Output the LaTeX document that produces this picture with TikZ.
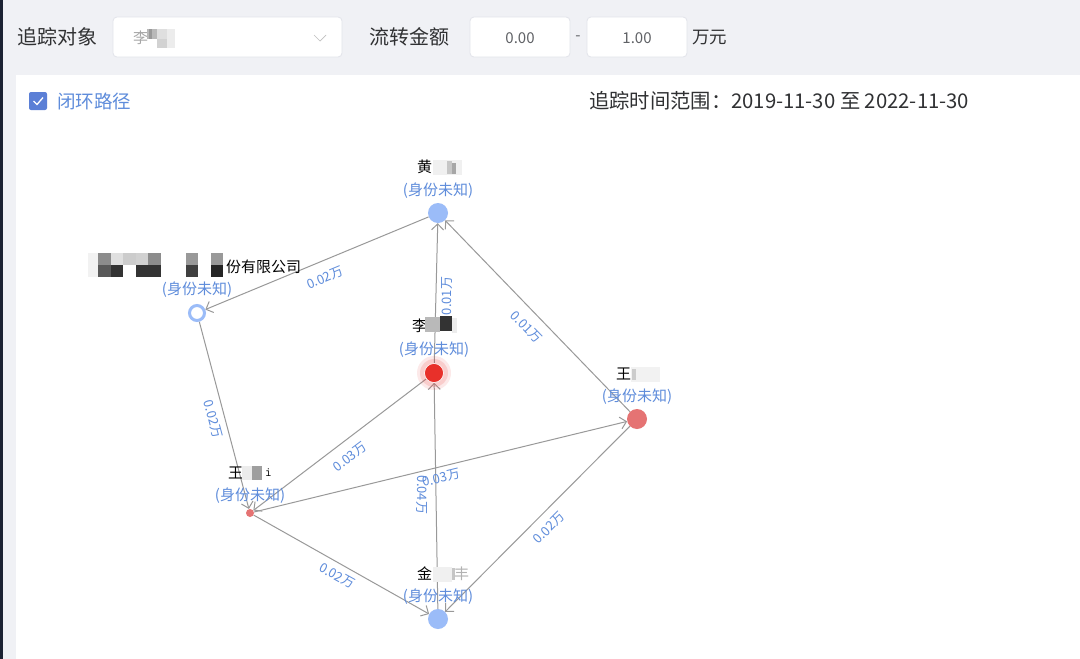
\documentclass[tikz,border=0pt]{standalone}
\usepackage{fontspec}
\setmainfont{Noto Sans CJK SC}
\usetikzlibrary{arrows.meta}
\pgfdeclarelayer{bglayer}
\pgfdeclarelayer{edgelayer}
\pgfsetlayers{bglayer,edgelayer,main}
\definecolor{pagebg}{HTML}{F0F1F5}
\definecolor{sidebar}{HTML}{1B2233}
\definecolor{darktext}{HTML}{303133}
\definecolor{bluetext}{HTML}{5E8CDB}
\definecolor{edgegray}{HTML}{999999}
\definecolor{nodeblue}{HTML}{9BBCF8}
\definecolor{nodered}{HTML}{E8302A}
\definecolor{nodepink}{HTML}{E57373}
\definecolor{boxline}{HTML}{E2E4EA}
\definecolor{checkblue}{HTML}{5B7FD6}
\definecolor{inputtext}{HTML}{606266}
\begin{document}
\begin{tikzpicture}[x=1pt,y=-1pt,
  edge/.style={draw=edgegray, line width=1pt, -{Straight Barb[length=6pt,width=12pt,line width=1pt]}},
  elab/.style={font=\fontsize{13}{14}\selectfont, text=bluetext, inner sep=0pt},
  namelab/.style={font=\fontsize{15}{16}\selectfont, text=black, inner sep=0pt},
  rolelab/.style={font=\fontsize{15}{16}\selectfont, text=bluetext, inner sep=0pt},
  toplab/.style={font=\fontsize{20}{21}\selectfont, text=darktext, inner sep=0pt},
  inbox/.style={draw=boxline, fill=white, rounded corners=4pt, line width=0.8pt},
  intext/.style={font=\fontsize{15}{16}\selectfont, text=inputtext, inner sep=0pt},
  bluenode/.style={circle, fill=nodeblue, minimum size=20pt, inner sep=0pt},
  ringnode/.style={circle, draw=nodeblue, line width=3pt, fill=white, minimum size=15pt, inner sep=0pt},
  rednode/.style={circle, fill=nodered, draw=white, line width=0.6pt, minimum size=19pt, inner sep=0pt},
  pinknode/.style={circle, fill=nodepink, minimum size=20pt, inner sep=0pt},
  smallnode/.style={circle, fill=nodepink, minimum size=8pt, inner sep=0pt}
]
\useasboundingbox (0,0) rectangle (1080,659);
% backgrounds
\begin{pgfonlayer}{bglayer}
\fill[pagebg] (0,0) rectangle (1080,659);
\fill[sidebar] (0,0) rectangle (3,659);
\fill[white] (16,75) rectangle (1080,659);
\end{pgfonlayer}

% top bar
\node[toplab, anchor=west] (lblobj) at (17,37) {追踪对象};
\draw[inbox] (113,17) rectangle (342,57);
\node[intext, anchor=west, text=gray!70] (objname) at (133,38) {李};
\fill[gray!55] (147,29) rectangle (157,39);
\fill[gray!80] (149,29) rectangle (152,39);
\fill[gray!25] (157,29) rectangle (167,39);
\fill[gray!35] (157,39) rectangle (167,48);
\fill[gray!15] (167,29) rectangle (175,48);
\draw[gray!50, line width=0.7pt] (314,35) -- (320,41) -- (326,35);
\node[toplab, anchor=west] (lblamt) at (369,37) {流转金额};
\draw[inbox] (470,17) rectangle (570,57);
\node[intext] (amin) at (520,38) {0.00};
\node[intext] at (578,38) {-};
\draw[inbox] (587,17) rectangle (687,57);
\node[intext] (amax) at (637,38) {1.00};
\node[intext, anchor=west, text=darktext, font=\fontsize{17.5}{18}\selectfont] (unit) at (692,38) {万元};

% panel header
\fill[checkblue, rounded corners=2pt] (29,92) rectangle (47,110);
\draw[white, line width=1.3pt] (33.5,101) -- (37,104.5) -- (43,97.5);
\node[font=\fontsize{18.5}{19}\selectfont, text=bluetext, anchor=west, inner sep=0pt] (closed) at (57,101) {闭环路径};
\node[toplab, anchor=west, font=\fontsize{20.3}{21}\selectfont] (range) at (589,101) {追踪时间范围：2019-11-30 至 2022-11-30};

% graph nodes
\fill[nodered, opacity=0.10] (434,373) circle (17);
\fill[nodered, opacity=0.15] (434,373) circle (14);
\node[bluenode] (huang) at (438,213) {};
\node[ringnode] (comp) at (197,313) {};
\node[rednode] (li) at (434,373) {};
\node[pinknode] (wangt) at (637,419) {};
\node[smallnode] (wangi) at (250,513) {};
\node[bluenode] (jin) at (438,619) {};

% labels: 黄
\node[namelab, anchor=west] (huangname) at (417,167) {黄};
\fill[gray!12] (433,160) rectangle (462,175);
\fill[gray!45] (447,161) rectangle (452,174);
\fill[gray!70] (452,163) rectangle (456,174);
\node[rolelab] (huangrole) at (438,191) {(身份未知)};
% company
\foreach \c [count=\i from 0] in {45,12,20,18,45,0,0,40,0,40}{
  \fill[black!\c] (98+\i*12.5,253) rectangle ++(12.5,12);}
\foreach \c [count=\i from 0] in {65,80,0,80,80,0,0,75,0,85}{
  \fill[black!\c] (98+\i*12.5,265) rectangle ++(12.5,12);}
\fill[gray!10] (88,253) rectangle (98,277);
\node[namelab, anchor=west] (compname) at (226,267) {份有限公司};
\node[rolelab] (comprole) at (197,290) {(身份未知)};
% 李
\node[namelab, anchor=west] (liname) at (412,326) {李};
\fill[gray!55] (425,317) rectangle (440,332);
\fill[black!80] (440,316) rectangle (452,331);
\fill[gray!15] (452,318) rectangle (457,333);
\node[rolelab] (lirole) at (434,350) {(身份未知)};
% 王塔
\node[namelab, anchor=west] (wangtname) at (616,374) {王};
\fill[gray!10] (631,367) rectangle (660,382);
\fill[gray!40] (632,369) rectangle (636,380);
\node[rolelab] (wangtrole) at (637,397) {(身份未知)};
% 王i
\node[namelab, anchor=west] (winame) at (228,473) {王};
\fill[gray!15] (242,466) rectangle (252,480);
\fill[gray!75] (252,466) rectangle (262,480);
\node[namelab, anchor=west, font=\fontsize{13}{14}\selectfont\ttfamily] (winame2) at (265,473) {i};
\node[rolelab] (wirole) at (250,496) {(身份未知)};
% 金
\node[namelab, anchor=west] (jinname) at (417,574) {金};
\fill[gray!12] (433,567) rectangle (452,582);
\fill[gray!45] (452,568) rectangle (455,580);
\node[namelab, anchor=west, text=gray!60] (jinname2) at (454,574) {丰};
\node[rolelab] (jinrole) at (438,597) {(身份未知)};

% edges
\begin{pgfonlayer}{edgelayer}
\draw[edge] (huang) -- (comp);
\draw[edge] (li) -- (huang);
\draw[edge] (wangt) -- (huang);
\draw[edge] (comp) -- (wangi);
\draw[edge] (li) -- (wangi);
\draw[edge] (wangi) -- (wangt);
\draw[edge] (jin) -- (li);
\draw[edge] (wangi) -- (jin);
\draw[edge] (wangt) -- (jin);
\end{pgfonlayer}

% edge labels
\node[elab, rotate=22.5] (e1) at (325,278) {0.02万};
\node[elab, rotate=90] (e2) at (447,296) {0.01万};
\node[elab, rotate=-46] (e3) at (526,327) {0.01万};
\node[elab, rotate=-75] (e4) at (213,419) {0.02万};
\node[elab, rotate=37] (e5) at (350,457) {0.03万};
\node[elab, rotate=13.6] (e6) at (441,478) {0.03万};
\node[elab, rotate=-90] (e7) at (422,495) {0.04万};
\node[elab, rotate=-29] (e8) at (337,576) {0.02万};
\node[elab, rotate=45] (e9) at (549,528) {0.02万};
\end{tikzpicture}
\end{document}
